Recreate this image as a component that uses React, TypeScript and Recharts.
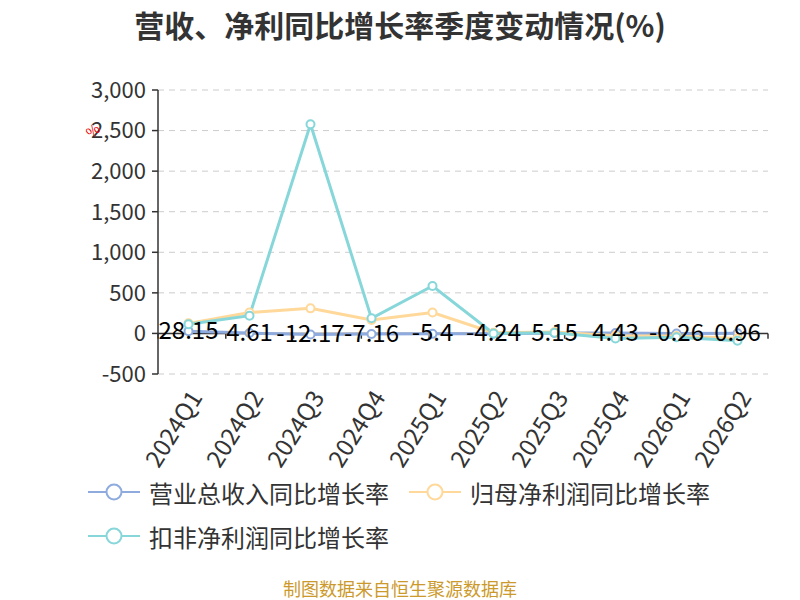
import React from 'react'
import {
  LineChart,
  Line,
  XAxis,
  YAxis,
  CartesianGrid,
  ReferenceLine,
  LabelList,
} from 'recharts'

const quarters = [
  '2024Q1', '2024Q2', '2024Q3', '2024Q4', '2025Q1',
  '2025Q2', '2025Q3', '2025Q4', '2026Q1', '2026Q2',
]
const revenueGrowth = [28.15, 4.61, -12.17, -7.16, -5.4, -4.24, 5.15, 4.43, -0.26, 0.96]
const netProfitGrowth = [124, 258, 309, 165, 258, 8, 18, -30, -32, -62]
const deductedProfitGrowth = [112, 218, 2577, 186, 584, 0, 9, -61, -48, -90]
const yTicks = [-500, 0, 500, 1000, 1500, 2000, 2500, 3000]

const seriesNames = ['营业总收入同比增长率', '归母净利润同比增长率', '扣非净利润同比增长率']
const colors = ['#8fabdd', '#ffd89a', '#87d7da']

const data = quarters.map((q, i) => ({
  q,
  rev: revenueGrowth[i],
  net: netProfitGrowth[i],
  ded: deductedProfitGrowth[i],
}))

const font = '"Noto Sans CJK SC", "Noto Sans", sans-serif'

function QuarterTick({ x, y, payload }: any) {
  const ax = x + 6
  const ay = y + 10
  return (
    <text
      x={ax}
      y={ay}
      transform={`rotate(-58, ${ax}, ${ay})`}
      textAnchor="end"
      dominantBaseline="central"
      fontSize={24}
      fill="#333"
      fontFamily={font}
    >
      {payload.value}
    </text>
  )
}

function RevLabel({ x, y, value }: any) {
  return (
    <text
      x={x}
      y={y - 3}
      textAnchor="middle"
      dominantBaseline="central"
      fontSize={24}
      fill="#000"
      fontFamily={font}
    >
      {value}
    </text>
  )
}

function LegendItem({ color, name, left, top }: { color: string; name: string; left: number; top: number }) {
  return (
    <div style={{ position: 'absolute', left, top, display: 'flex', alignItems: 'center', height: 30 }}>
      <svg width={52} height={20}>
        <line x1={0} y1={10} x2={52} y2={10} stroke={color} strokeWidth={2} />
        <circle cx={26} cy={10} r={7.5} fill="#fff" stroke={color} strokeWidth={2} />
      </svg>
      <span style={{ marginLeft: 9, fontSize: 24, color: '#333', fontFamily: font, whiteSpace: 'nowrap' }}>
        {name}
      </span>
    </div>
  )
}

const dot = (c: string) => ({ r: 4, fill: '#fff', stroke: c, strokeWidth: 2 })

export default function App() {
  return (
    <div style={{ position: 'absolute', left: 0, top: 0, width: 800, height: 600, background: '#fff', fontFamily: font }}>
      <div
        style={{
          position: 'absolute', left: 0, top: 2, width: 800, textAlign: 'center',
          fontSize: 30, fontWeight: 'bold', color: '#333',
        }}
      >
        营收、净利同比增长率季度变动情况(%)
      </div>

      <LineChart
        width={800}
        height={600}
        data={data}
        margin={{ top: 90, right: 32, bottom: 126, left: 70 }}
      >
        <CartesianGrid vertical={false} stroke="#ccc" strokeDasharray="6 5" />
        <XAxis
          dataKey="q"
          interval={0}
          axisLine={false}
          tickLine={false}
          height={100}
          padding={{ left: 30.5, right: 30.5 }}
          tick={<QuarterTick />}
        />
        <XAxis xAxisId="b" type="number" domain={[0, 10]} hide />
        <YAxis
          width={88}
          domain={[-500, 3000]}
          ticks={yTicks}
          interval={0}
          axisLine={{ stroke: '#333', strokeWidth: 1.5 }}
          tickLine={{ stroke: '#333', strokeWidth: 1.5 }}
          tickSize={6}
          tickMargin={6}
          tick={{ fontSize: 22, fill: '#333', fontFamily: font }}
          tickFormatter={(v: number) => v.toLocaleString('en-US')}
        />
        <ReferenceLine y={0} stroke="#333" strokeWidth={1.5} />
        {quarters.concat(['end']).map((_, i) => (
          <ReferenceLine
            key={i}
            xAxisId="b"
            segment={[{ x: i, y: 0 }, { x: i, y: -65 }]}
            stroke="#333"
            strokeWidth={1.5}
          />
        ))}
        <Line
          dataKey="rev"
          stroke={colors[0]}
          strokeWidth={3}
          dot={dot(colors[0])}
          isAnimationActive={false}
        />
        <Line
          dataKey="net"
          stroke={colors[1]}
          strokeWidth={3}
          dot={dot(colors[1])}
          isAnimationActive={false}
        />
        <Line
          dataKey="ded"
          stroke={colors[2]}
          strokeWidth={3}
          dot={dot(colors[2])}
          isAnimationActive={false}
        />
        {/* labels for revenue drawn last so they sit on top */}
        <Line dataKey="rev" stroke="none" dot={false} activeDot={false} isAnimationActive={false}>
          <LabelList dataKey="rev" content={<RevLabel />} />
        </Line>
      </LineChart>

      <span
        style={{
          position: 'absolute', left: 86, top: 120, fontSize: 14, color: '#e00',
          transform: 'rotate(-40deg)', fontFamily: font,
        }}
      >
        %
      </span>

      <LegendItem color={colors[0]} name={seriesNames[0]} left={88} top={477} />
      <LegendItem color={colors[1]} name={seriesNames[1]} left={409} top={477} />
      <LegendItem color={colors[2]} name={seriesNames[2]} left={88} top={521} />

      <div
        style={{
          position: 'absolute', left: 0, top: 576, width: 800, textAlign: 'center',
          fontSize: 18, lineHeight: '24px', color: '#cc9a2c',
        }}
      >
        制图数据来自恒生聚源数据库
      </div>
    </div>
  )
}
